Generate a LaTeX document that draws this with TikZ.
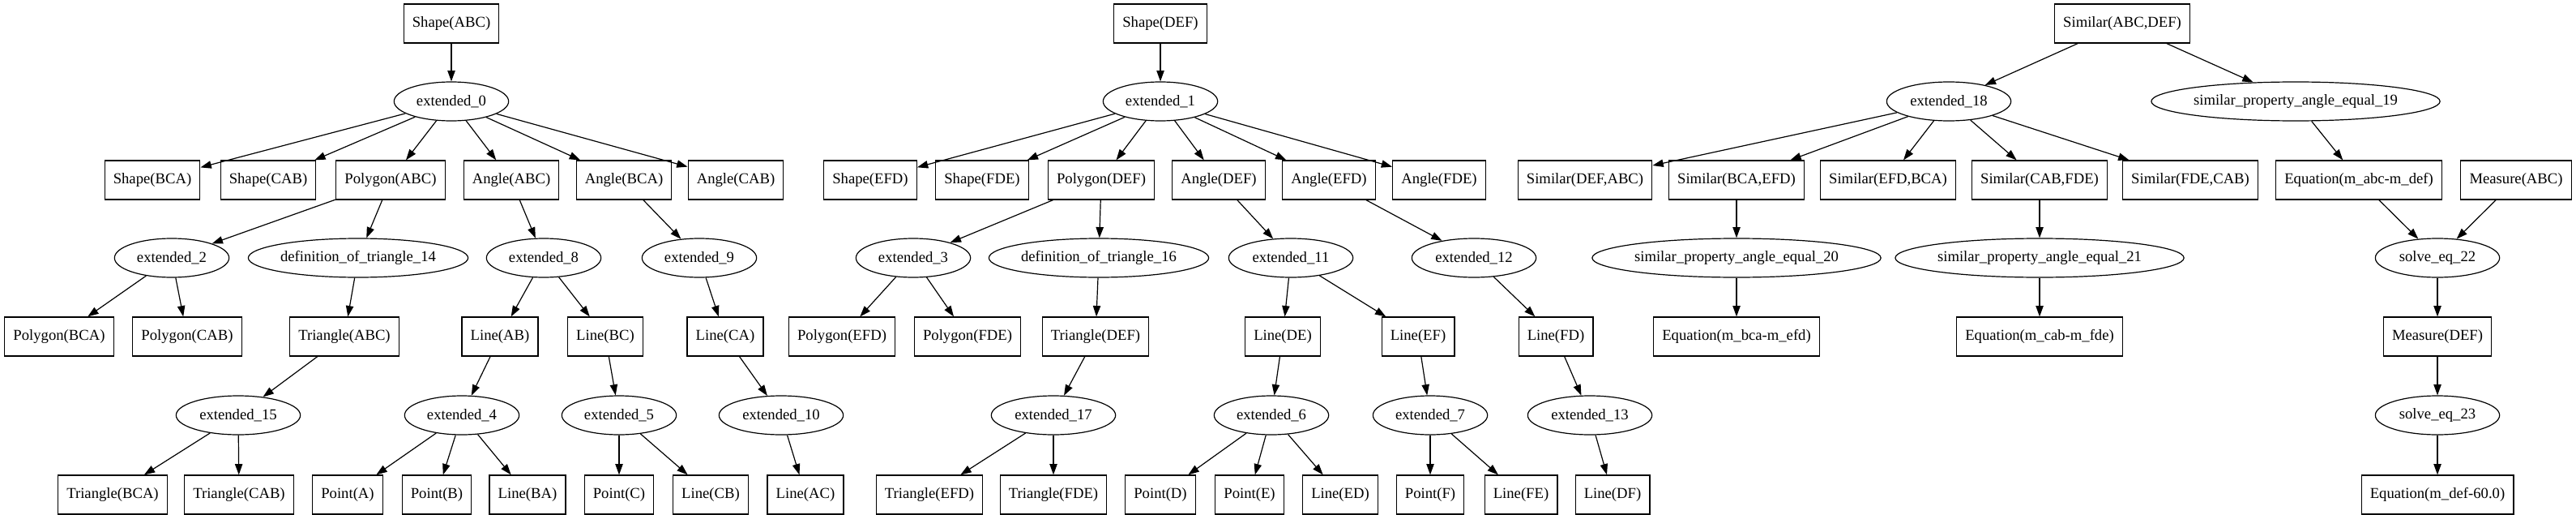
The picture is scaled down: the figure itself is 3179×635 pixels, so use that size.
\documentclass[tikz,border=0pt]{standalone}
\usepackage{fontspec}
\setmainfont{Liberation Serif}
\usepackage{tikz}
\usetikzlibrary{arrows.meta}
\usetikzlibrary{shapes.geometric}

\begin{document}
\begin{tikzpicture}[x=0.75pt, y=-0.75pt,
    every node/.style={font=\fontsize{14}{16}\selectfont},
    box/.style={draw, line width=0.9pt, rectangle, minimum height=36pt, minimum width=54pt, inner xsep=8pt},
    oval/.style={draw, line width=0.9pt, ellipse, minimum height=36pt, inner xsep=0pt, minimum width=#1},
    oval/.default=106pt,
    edge/.style={line width=0.9pt, -{Triangle[length=10pt,width=7pt]}}]
                \useasboundingbox (0,0) rectangle (3179,635);
                % ABC
                \node[box] (shapeABC) at (557,29) {Shape(ABC)};
                \node[oval] (ext0) at (557,125) {extended\_0};
                \node[box] (shapeBCA) at (188,222) {Shape(BCA)};
                \node[box] (shapeCAB) at (331,222) {Shape(CAB)};
                \node[box] (polyABC) at (482,222) {Polygon(ABC)};
                \node[box] (angABC) at (631,222) {Angle(ABC)};
                \node[box] (angBCA) at (770,222) {Angle(BCA)};
                \node[box] (angCAB) at (908,222) {Angle(CAB)};
                \node[oval] (ext2) at (212,318) {extended\_2};
                \node[oval] (def14) at (442,318) {definition\_of\_triangle\_14};
                \node[oval] (ext8) at (671,318) {extended\_8};
                \node[oval] (ext9) at (863,318) {extended\_9};
                \node[box] (polyBCA) at (73,415) {Polygon(BCA)};
                \node[box] (polyCAB) at (231,415) {Polygon(CAB)};
                \node[box] (triABC) at (425,415) {Triangle(ABC)};
                \node[box] (lineAB) at (617,415) {Line(AB)};
                \node[box] (lineBC) at (747,415) {Line(BC)};
                \node[box] (lineCA) at (895,415) {Line(CA)};
                \node[oval=115pt] (ext15) at (294,512) {extended\_15};
                \node[oval] (ext4) at (570,512) {extended\_4};
                \node[oval] (ext5) at (764,512) {extended\_5};
                \node[oval=115pt] (ext10) at (964,512) {extended\_10};
                \node[box] (triBCA) at (139,610) {Triangle(BCA)};
                \node[box] (triCAB) at (295,610) {Triangle(CAB)};
                \node[box] (ptA) at (429,610) {Point(A)};
                \node[box] (ptB) at (539,610) {Point(B)};
                \node[box] (lineBA) at (651,610) {Line(BA)};
                \node[box] (ptC) at (764,610) {Point(C)};
                \node[box] (lineCB) at (877,610) {Line(CB)};
                \node[box] (lineAC) at (994,610) {Line(AC)};
                % DEF
                \node[box] (shapeDEF) at (1432,29) {Shape(DEF)};
                \node[oval] (ext1) at (1432,125) {extended\_1};
                \node[box] (shapeEFD) at (1074,222) {Shape(EFD)};
                \node[box] (shapeFDE) at (1212,222) {Shape(FDE)};
                \node[box] (polyDEF) at (1359,222) {Polygon(DEF)};
                \node[box] (angDEF) at (1504,222) {Angle(DEF)};
                \node[box] (angEFD) at (1640,222) {Angle(EFD)};
                \node[box] (angFDE) at (1776,222) {Angle(FDE)};
                \node[oval] (ext3) at (1127,318) {extended\_3};
                \node[oval] (def16) at (1356,318) {definition\_of\_triangle\_16};
                \node[oval=115pt] (ext11) at (1593,318) {extended\_11};
                \node[oval=115pt] (ext12) at (1819,318) {extended\_12};
                \node[box] (polyEFD) at (1039,415) {Polygon(EFD)};
                \node[box] (polyFDE) at (1194,415) {Polygon(FDE)};
                \node[box] (triDEF) at (1352,415) {Triangle(DEF)};
                \node[box] (lineDE) at (1583,415) {Line(DE)};
                \node[box] (lineEF) at (1750,415) {Line(EF)};
                \node[box] (lineFD) at (1920,415) {Line(FD)};
                \node[oval=115pt] (ext17) at (1300,512) {extended\_17};
                \node[oval] (ext6) at (1569,512) {extended\_6};
                \node[oval] (ext7) at (1765,512) {extended\_7};
                \node[oval=115pt] (ext13) at (1962,512) {extended\_13};
                \node[box] (triEFD) at (1147,610) {Triangle(EFD)};
                \node[box] (triFDE) at (1300,610) {Triangle(FDE)};
                \node[box] (ptD) at (1432,610) {Point(D)};
                \node[box] (ptE) at (1542,610) {Point(E)};
                \node[box] (lineED) at (1654,610) {Line(ED)};
                \node[box] (ptF) at (1765,610) {Point(F)};
                \node[box] (lineFE) at (1877,610) {Line(FE)};
                \node[box] (lineDF) at (1990,610) {Line(DF)};
                % similar
                \node[box] (simABCDEF) at (2619,29) {Similar(ABC,DEF)};
                \node[oval=115pt] (ext18) at (2405,125) {extended\_18};
                \node[oval] (sim19) at (2833,125) {similar\_property\_angle\_equal\_19};
                \node[box] (simDEFABC) at (1956,222) {Similar(DEF,ABC)};
                \node[box] (simBCAEFD) at (2143,222) {Similar(BCA,EFD)};
                \node[box] (simEFDBCA) at (2330,222) {Similar(EFD,BCA)};
                \node[box] (simCABFDE) at (2517,222) {Similar(CAB,FDE)};
                \node[box] (simFDECAB) at (2703,222) {Similar(FDE,CAB)};
                \node[box] (eqABCDEF) at (2911,222) {Equation(m\_abc-m\_def)};
                \node[box] (measABC) at (3105,222) {Measure(ABC)};
                \node[oval] (sim20) at (2143,318) {similar\_property\_angle\_equal\_20};
                \node[oval] (sim21) at (2517,318) {similar\_property\_angle\_equal\_21};
                \node[oval=115pt] (solve22) at (3008,318) {solve\_eq\_22};
                \node[box] (eqBCAEFD) at (2143,415) {Equation(m\_bca-m\_efd)};
                \node[box] (eqCABFDE) at (2517,415) {Equation(m\_cab-m\_fde)};
                \node[box] (measDEF) at (3008,415) {Measure(DEF)};
                \node[oval=115pt] (solve23) at (3008,512) {solve\_eq\_23};
                \node[box] (eqDEF) at (3008,610) {Equation(m\_def-60.0)};
                % edges
                \foreach \a/\b in {shapeABC/ext0, ext0/shapeBCA, ext0/shapeCAB, ext0/polyABC, ext0/angABC, ext0/angBCA, ext0/angCAB,
                    polyABC/ext2, polyABC/def14, angABC/ext8, angBCA/ext9, ext2/polyBCA, ext2/polyCAB, def14/triABC,
                    ext8/lineAB, ext8/lineBC, ext9/lineCA, triABC/ext15, lineAB/ext4, lineBC/ext5, lineCA/ext10,
                    ext15/triBCA, ext15/triCAB, ext4/ptA, ext4/ptB, ext4/lineBA, ext5/ptC, ext5/lineCB, ext10/lineAC,
                    shapeDEF/ext1, ext1/shapeEFD, ext1/shapeFDE, ext1/polyDEF, ext1/angDEF, ext1/angEFD, ext1/angFDE,
                    polyDEF/ext3, polyDEF/def16, angDEF/ext11, angEFD/ext12, ext3/polyEFD, ext3/polyFDE, def16/triDEF,
                    ext11/lineDE, ext11/lineEF, ext12/lineFD, triDEF/ext17, lineDE/ext6, lineEF/ext7, lineFD/ext13,
                    ext17/triEFD, ext17/triFDE, ext6/ptD, ext6/ptE, ext6/lineED, ext7/ptF, ext7/lineFE, ext13/lineDF,
                    simABCDEF/ext18, simABCDEF/sim19, ext18/simDEFABC, ext18/simBCAEFD, ext18/simEFDBCA, ext18/simCABFDE, ext18/simFDECAB,
                    sim19/eqABCDEF, simBCAEFD/sim20, simCABFDE/sim21, eqABCDEF/solve22, measABC/solve22,
                    sim20/eqBCAEFD, sim21/eqCABFDE, solve22/measDEF, measDEF/solve23, solve23/eqDEF}
                    \draw[edge] (\a) -- (\b);
            \end{tikzpicture}
\end{document}
